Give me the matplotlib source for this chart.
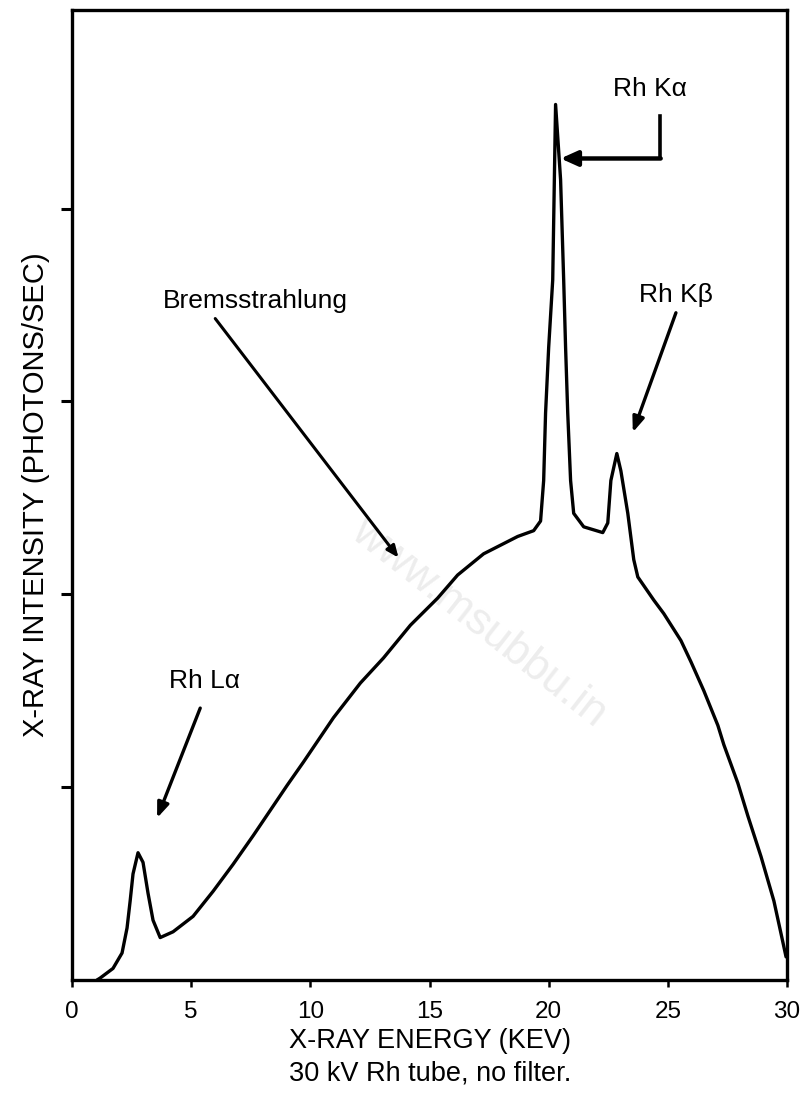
import matplotlib
matplotlib.use("Agg")
import matplotlib.pyplot as plt

plt.rcParams['font.family'] = ['Liberation Sans', 'DejaVu Sans']

# Spectrum (energy keV, intensity arbitrary units)
energy = [1.05, 1.18, 1.72, 2.10, 2.31, 2.44, 2.56, 2.77, 2.98, 3.19, 3.40, 3.70,
          4.24, 5.08, 5.92, 6.76, 7.61, 8.32, 9.03, 9.71, 10.97, 12.10, 13.07,
          14.20, 15.34, 16.18, 17.27, 18.70, 19.37, 19.66, 19.79, 19.87, 20.00,
          20.17, 20.29, 20.50, 20.63, 20.71, 20.80, 20.92, 21.05, 21.47, 22.27,
          22.48, 22.61, 22.86, 23.03, 23.32, 23.57, 23.74, 24.41, 24.83, 25.55,
          25.97, 26.51, 27.10, 27.35, 27.94, 28.36, 28.91, 29.45, 29.75, 29.96]
intensity = [0.00, 0.01, 0.06, 0.14, 0.27, 0.41, 0.55, 0.66, 0.61, 0.45, 0.31, 0.22,
             0.25, 0.33, 0.46, 0.60, 0.75, 0.88, 1.01, 1.13, 1.36, 1.54, 1.67,
             1.84, 1.98, 2.10, 2.21, 2.30, 2.33, 2.38, 2.59, 2.94, 3.28,
             3.63, 4.54, 4.15, 3.63, 3.28, 2.94, 2.59, 2.42, 2.35, 2.32,
             2.37, 2.59, 2.73, 2.64, 2.42, 2.18, 2.09, 1.97, 1.90, 1.76,
             1.65, 1.50, 1.32, 1.22, 1.02, 0.85, 0.64, 0.41, 0.24, 0.12]

x_ticks = [0, 5, 10, 15, 20, 25, 30]
x_tick_labels = ["0", "5", "10", "15", "20", "25", "30"]
y_ticks = [1, 2, 3, 4]

fig = plt.figure(figsize=(8.05, 10.93), dpi=100)
ax = fig.add_axes([72/805, 113/1093, 715/805, 970/1093])

ax.plot(energy, intensity, color='black', lw=2.4, solid_joinstyle='round',
        solid_capstyle='round')

ax.set_xlim(0, 30)
ax.set_ylim(0, 5.03)
ax.set_xticks(x_ticks)
ax.set_xticklabels(x_tick_labels)
ax.set_yticks(y_ticks)
ax.set_yticklabels([])
ax.tick_params(axis='x', direction='out', length=5, width=1.8, labelsize=17.5, pad=10)
ax.tick_params(axis='y', direction='out', length=8, width=2.2)
for s in ax.spines.values():
    s.set_linewidth(2.4)

ax.set_ylabel("X-RAY INTENSITY (PHOTONS/SEC)", fontsize=21, labelpad=4)
ax.set_xlabel("X-RAY ENERGY (KEV)", fontsize=19.5, labelpad=4)
fig.text(0.535, 1 - 1073/1093, "30 kV Rh tube, no filter.", fontsize=19.5,
         ha='center', va='center')

tfs = 19
# Rh K-alpha
ax.text(24.24, 4.62, "Rh Kα", fontsize=tfs, ha='center', va='center')
ax.plot([24.66, 24.66], [4.48, 4.26], color='black', lw=2.6)
ax.annotate("", xy=(20.50, 4.26), xytext=(24.70, 4.26),
            arrowprops=dict(arrowstyle='-|>,head_length=1.0,head_width=0.45',
                            color='black', lw=3.2, shrinkA=0, shrinkB=0))
# Rh K-beta
ax.text(25.34, 3.55, "Rh Kβ", fontsize=tfs, ha='center', va='center')
ax.annotate("", xy=(23.53, 2.84), xytext=(25.34, 3.46),
            arrowprops=dict(arrowstyle='-|>,head_length=0.9,head_width=0.35',
                            color='black', lw=2.4, shrinkA=0, shrinkB=0))
# Bremsstrahlung
ax.text(7.69, 3.52, "Bremsstrahlung", fontsize=tfs, ha='center', va='center')
ax.annotate("", xy=(13.70, 2.19), xytext=(6.01, 3.43),
            arrowprops=dict(arrowstyle='-|>,head_length=0.7,head_width=0.3',
                            color='black', lw=2.2, shrinkA=0, shrinkB=0))
# Rh L-alpha
ax.text(5.55, 1.55, "Rh Lα", fontsize=tfs, ha='center', va='center')
ax.annotate("", xy=(3.57, 0.84), xytext=(5.38, 1.41),
            arrowprops=dict(arrowstyle='-|>,head_length=0.9,head_width=0.35',
                            color='black', lw=2.4, shrinkA=0, shrinkB=0))

# watermark
ax.text(17.06, 1.85, "www.msubbu.in", fontsize=32, color='#ededed',
        rotation=-38, ha='center', va='center', zorder=0)

fig.savefig("out.png", dpi=100)
